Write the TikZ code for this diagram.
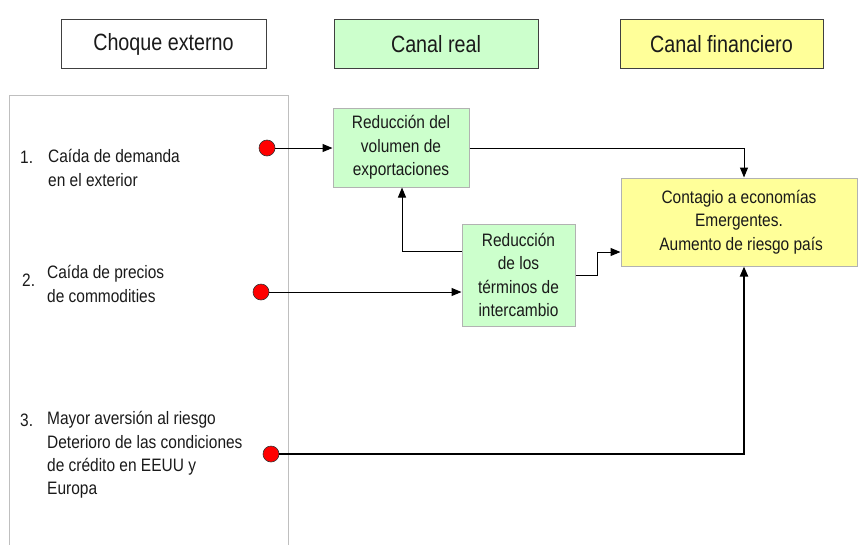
\documentclass[tikz,border=0pt]{standalone}
\usepackage{fontspec}
\setmainfont{Liberation Sans}[FakeStretch=0.86]
\newfontfamily\titlefont{Liberation Sans}[FakeStretch=0.84]
\usetikzlibrary{arrows.meta,calc}
\definecolor{lgreen}{HTML}{CCFFCC}
\definecolor{lyellow}{HTML}{FFFF99}
\definecolor{txt}{HTML}{1A1A1A}
\tikzset{
  topbox/.style={draw=black!75, line width=1pt, inner sep=0pt, text=txt,
     font=\titlefont\fontsize{23.5}{28}\selectfont},
  flowbox/.style={draw=black!30, line width=1pt, inner sep=0pt, align=center, text=txt,
     font=\fontsize{18}{23.3}\selectfont},
  itemtext/.style={inner sep=0pt, align=left, anchor=west, text=txt,
     font=\fontsize{18}{23.3}\selectfont},
  dot/.style={circle, draw=black!80, fill=red, line width=0.6pt, minimum size=16pt, inner sep=0pt},
  conn/.style={line width=1pt, black},
  arr/.style={conn, -{Triangle[length=10pt,width=8pt]}},
}
\begin{document}
\begin{tikzpicture}[x=1pt,y=-1pt]
\useasboundingbox (0,0) rectangle (858,544);
% top headers
\node[topbox, minimum width=205pt, minimum height=49pt] (choque) at (163.5,44) {Choque externo};
\node[topbox, fill=lgreen, minimum width=204pt, minimum height=49pt] (real) at (436,44) {Canal real};
\node[topbox, fill=lyellow, minimum width=203pt, minimum height=49pt] (fin) at (721.5,44) {Canal financiero};
% left panel
\draw[black!25, line width=1pt] (9,560) -- (9,95) -- (288,95) -- (288,560);
% items
\node[itemtext] (n1) at (20,157) {1.};
\node[itemtext] (t1) at (48,168) {Caída de demanda\\en el exterior};
\node[itemtext] (n2) at (22,280) {2.};
\node[itemtext] (t2) at (47,284) {Caída de precios\\de commodities};
\node[itemtext] (n3) at (20,420) {3.};
\node[itemtext] (t3) at (47,455) {Mayor aversión al riesgo\\Deterioro de las condiciones\\de crédito en EEUU y\\Europa};
% dots
\node[dot] (d1) at (267,148) {};
\node[dot] (d2) at (261,292) {};
\node[dot] (d3) at (271,454) {};
% flow boxes
\node[flowbox, fill=lgreen, minimum width=136pt, minimum height=79pt] (b1) at (401,147.5) {Reducción del\\volumen de\\exportaciones};
\node[flowbox, fill=lgreen, minimum width=113pt, minimum height=102pt] (b2) at (518.5,275) {Reducción\\de los\\términos de\\intercambio};
\node[flowbox, fill=lyellow, minimum width=236pt, minimum height=88pt] (y) at (739,222) {Contagio a economías\\Emergentes.\\\ Aumento de riesgo país};
% helper columns
\coordinate (colA) at (744,0);
\coordinate (colB) at (402,0);
% connectors
\draw[arr] (d1) -- (d1 -| b1.west);
\draw[arr] (b1.east |- d1) -| (colA |- y.north);
\draw[arr] (d2) -- (d2 -| b2.west);
\coordinate (b2l) at ($(b2.west)+(0,-24)$);
\draw[arr] (b2l) -| (colB |- b1.south);
\draw[conn] (b2.east) -- ++(22,0) coordinate (k1) -- ++(0,-23) coordinate (k2);
\draw[arr] (k2) -- (k2 -| y.west);
\draw[line width=2pt, -{Triangle[length=10pt,width=8pt]}] (d3) -| (colA |- y.south);
\end{tikzpicture}
\end{document}
